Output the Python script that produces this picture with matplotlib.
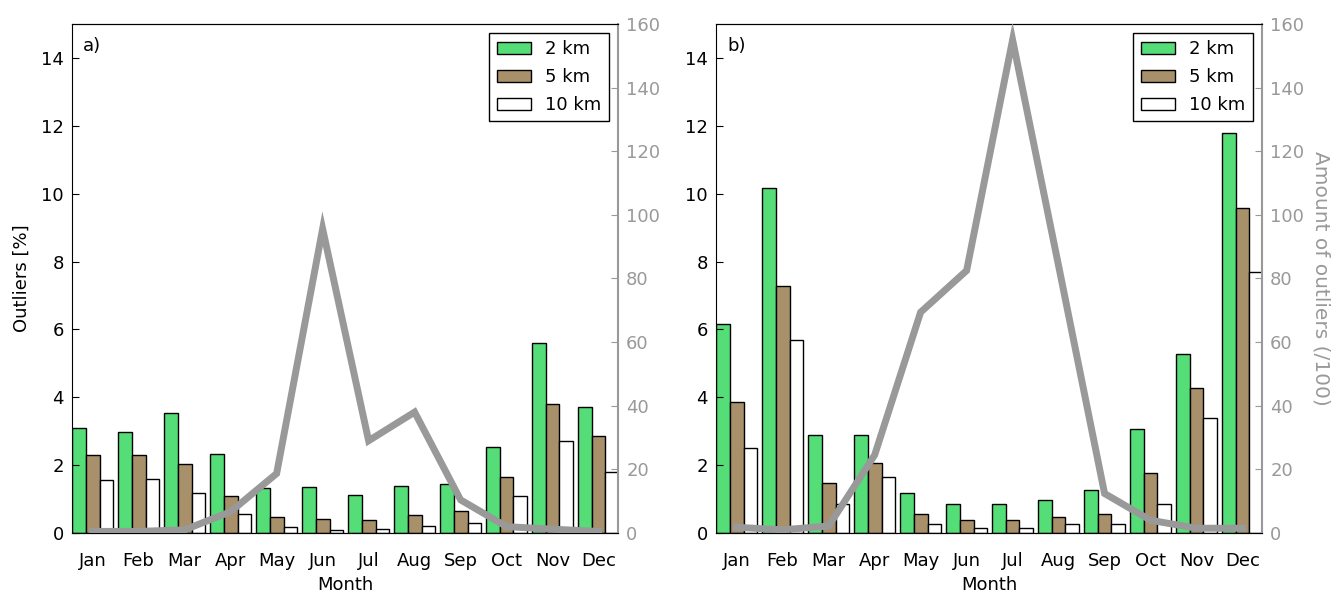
import numpy as np
import matplotlib
matplotlib.use("Agg")
import matplotlib.pyplot as plt

months = ["Jan", "Feb", "Mar", "Apr", "May", "Jun",
          "Jul", "Aug", "Sep", "Oct", "Nov", "Dec"]
series_labels = ["2 km", "5 km", "10 km"]

# Panel a) outlier percentages per distance threshold
a_2km = [3.1, 2.98, 3.55, 2.33, 1.32, 1.37, 1.13, 1.38, 1.44, 2.54, 5.6, 3.7]
a_5km = [2.3, 2.3, 2.02, 1.1, 0.46, 0.4, 0.37, 0.52, 0.64, 1.65, 3.8, 2.85]
a_10km = [1.57, 1.6, 1.17, 0.55, 0.19, 0.1, 0.13, 0.2, 0.29, 1.1, 2.7, 1.8]
a_amount = [0.5, 0.5, 1.0, 6.7, 18.7, 95.6, 29.0, 38.0, 10.4, 2.0, 1.2, 0.5]

# Panel b)
b_2km = [6.15, 10.17, 2.88, 2.88, 1.17, 0.85, 0.86, 0.98, 1.26, 3.07, 5.27, 11.8]
b_5km = [3.85, 7.27, 1.48, 2.06, 0.55, 0.37, 0.37, 0.46, 0.55, 1.77, 4.27, 9.58]
b_10km = [2.5, 5.68, 0.86, 1.66, 0.27, 0.15, 0.15, 0.27, 0.27, 0.86, 3.38, 7.7]
b_amount = [1.8, 1.0, 2.2, 24.5, 69.4, 82.5, 155.0, 84.0, 12.4, 4.0, 1.5, 1.5]

plt.rcParams["font.family"] = "DejaVu Sans"
plt.rcParams["font.size"] = 13

bar_colors = ["#55dd77", "#a8916a", "white"]
gray = "#999999"
width = 0.3
x = np.arange(len(months))

fig = plt.figure(figsize=(13.38, 5.95), dpi=100)

panels = [
    ("a)", (a_2km, a_5km, a_10km), a_amount, 0.0538),
    ("b)", (b_2km, b_5km, b_10km), b_amount, 0.5351),
]

for idx, (tag, bars, amount, left) in enumerate(panels):
    ax = fig.add_axes([left, 0.1042, 0.408, 0.8555])
    for k, (vals, col, lab) in enumerate(zip(bars, bar_colors, series_labels)):
        ax.bar(x + k * width, vals, width, align="edge", color=col,
               edgecolor="black", linewidth=1.0, label=lab)
    ax.set_xlim(0, 11.87)
    ax.set_ylim(0, 15)
    ax.set_yticks(np.arange(0, 15, 2))
    ax.set_xticks(x + 0.45)
    ax.set_xticklabels(months)
    ax.tick_params(axis="x", length=0, pad=14)
    ax.tick_params(axis="y", direction="in", length=5, pad=6)
    ax.set_xlabel("Month", labelpad=4)
    if idx == 0:
        ax.set_ylabel("Outliers [%]", labelpad=7)
    ax.spines["right"].set_visible(False)
    ax.text(0.02, 0.975, tag, transform=ax.transAxes, va="top", ha="left")
    leg = ax.legend(loc="upper right", fancybox=False, edgecolor="black",
                    framealpha=1, borderaxespad=0.5, handlelength=1.9,
                    handleheight=0.65, labelspacing=0.55, borderpad=0.4,
                    handletextpad=0.8)
    leg.get_frame().set_linewidth(1.0)

    ax2 = ax.twinx()
    ax2.plot(x + 0.45, amount, color=gray, linewidth=5,
             solid_joinstyle="miter", zorder=3)
    ax2.set_ylim(0, 160)
    ax2.set_yticks(np.arange(0, 161, 20))
    ax2.tick_params(axis="y", direction="in", length=5, pad=6,
                    colors=gray, labelcolor=gray)
    ax2.spines["right"].set_color(gray)
    ax2.spines["right"].set_linewidth(1.5)
    ax2.spines["left"].set_visible(False)
    if idx == 1:
        ax2.set_ylabel("Amount of outliers (/100)", color=gray,
                       rotation=270, labelpad=19, fontsize=14.5)

fig.savefig("out.png", dpi=100)
